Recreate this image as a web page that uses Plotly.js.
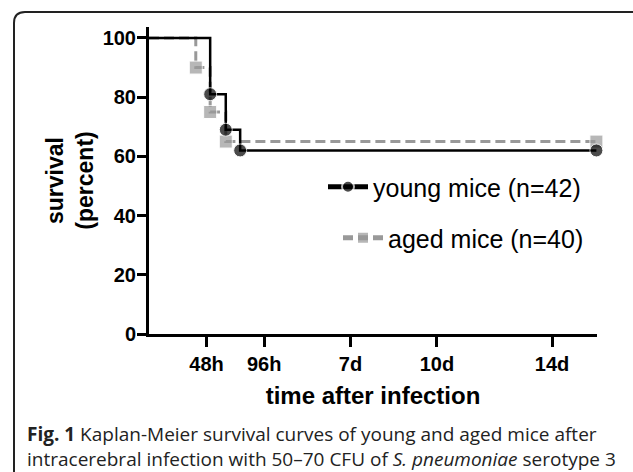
<!DOCTYPE html>
<html><head><meta charset="utf-8">
<script src="https://cdn.plot.ly/plotly-3.0.1.min.js"></script>
<style>html,body{margin:0;padding:0;background:#fff;overflow:hidden}#chart{width:633px;height:472px}</style>
</head><body><div id="chart"></div>
<script>
// ---- data ----
const youngTime = [0, 51, 64, 76, 373];          // hours after infection
const youngSurvival = [100, 81, 69, 62, 62];     // percent
const agedTime = [0, 39, 51, 64, 373];
const agedSurvival = [100, 90, 75, 65, 65];
const youngName = 'young mice (n=42)';
const agedName = 'aged mice (n=40)';
const xTickVals = [48, 96, 168, 240, 336];
const xTickText = ['48h', '96h', '7d', '10d', '14d'];
const yTickVals = [0, 20, 40, 60, 80, 100];
const xTitle = 'time after infection';
const yTitle = 'survival<br>(percent)';
const captionLine1 = '<b>Fig. 1</b> Kaplan-Meier survival curves of young and aged mice after';
const captionLine2 = 'intracerebral infection with 50–70 CFU of <i>S. pneumoniae</i> serotype 3';

// ---- geometry ----
const W = 633, H = 472;
const M = {l: 149, r: 36, t: 27, b: 138};
const PW = W - M.l - M.r, PH = H - M.t - M.b;
const px = x => (x - M.l) / PW;
const py = y => (H - M.b - y) / PH;

const markerSizes = arr => arr.map((v, i) => i === 0 ? 0 : 13);

const aged = {
  x: agedTime, y: agedSurvival, name: agedName, type: 'scatter', mode: 'lines+markers',
  line: {shape: 'hv', color: '#999999', width: 3, dash: '10px,5px'},
  marker: {symbol: 'square', color: '#999999', size: markerSizes(agedTime)},
  cliponaxis: false, legend: 'legend2'
};
const young = {
  x: youngTime, y: youngSurvival, name: youngName, type: 'scatter', mode: 'lines+markers',
  line: {shape: 'hv', color: '#000000', width: 2.5},
  marker: {symbol: 'circle', color: '#000000', size: markerSizes(youngTime)},
  cliponaxis: false, legend: 'legend'
};

const r = 11;
const bx = 14, by = 12;
const borderPath = `M${px(bx)},${py(H + 5)} L${px(bx)},${py(by + r)} Q${px(bx)},${py(by)} ${px(bx + r)},${py(by)} L${px(W + 5)},${py(by)}`;

const legendFont = {size: 25, family: 'Liberation Sans, Arial, sans-serif'};

const layout = {
  width: W, height: H, margin: M,
  paper_bgcolor: '#ffffff', plot_bgcolor: 'rgba(0,0,0,0)',
  font: {family: 'Liberation Sans, Arial, sans-serif', color: '#000000'},
  showlegend: true,
  xaxis: {
    range: [0, 373.5], tickvals: xTickVals, ticktext: xTickText,
    showgrid: false, zeroline: false, showline: true, linecolor: '#000', linewidth: 3,
    ticks: 'outside', ticklen: 10, tickwidth: 3, tickcolor: '#000',
    tickfont: {size: 20, family: 'Liberation Sans, Arial, sans-serif', weight: 'bold'},
    title: {text: '<b>' + xTitle + '</b>', font: {size: 24}, standoff: 14},
    fixedrange: true
  },
  yaxis: {
    range: [0, 103.7], tickvals: yTickVals,
    showgrid: false, zeroline: false, showline: true, linecolor: '#000', linewidth: 3,
    ticks: 'outside', ticklen: 9, tickwidth: 3, tickcolor: '#000', ticklabelstandoff: -3,
    tickfont: {size: 20, family: 'Liberation Sans, Arial, sans-serif', weight: 'bold'},
    title: {text: '<b>' + yTitle + '</b>', font: {size: 23}, standoff: 3},
    fixedrange: true
  },
  legend: {x: px(323), y: py(187), xanchor: 'left', yanchor: 'middle', bgcolor: 'rgba(0,0,0,0)',
           font: legendFont, itemwidth: 40, itemsizing: 'constant'},
  legend2: {x: px(338), y: py(238), xanchor: 'left', yanchor: 'middle', bgcolor: 'rgba(0,0,0,0)',
           font: legendFont, itemwidth: 40, itemsizing: 'constant'},
  shapes: [{type: 'path', xref: 'paper', yref: 'paper', path: borderPath,
            line: {color: '#222222', width: 2}, layer: 'below'}],
  annotations: [
    {xref: 'paper', yref: 'paper', x: px(25), y: py(434), xanchor: 'left', yanchor: 'middle',
     text: captionLine1, showarrow: false, font: {family: 'Open Sans, sans-serif', size: 19, color: '#222'}},
    {xref: 'paper', yref: 'paper', x: px(25), y: py(459), xanchor: 'left', yanchor: 'middle',
     text: captionLine2, showarrow: false, font: {family: 'Open Sans, sans-serif', size: 19, color: '#222'}}
  ]
};

Plotly.newPlot('chart', [aged, young], layout, {displayModeBar: false, staticPlot: true});
</script></body></html>
